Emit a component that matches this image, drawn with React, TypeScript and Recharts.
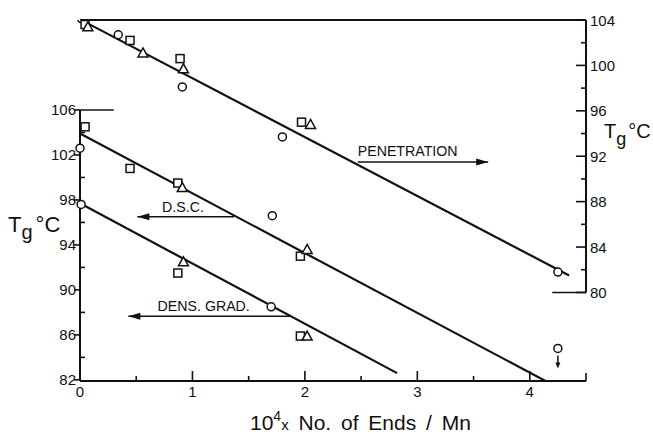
import React from "react";
import {
  ComposedChart,
  XAxis,
  YAxis,
  Line,
  Scatter,
  ReferenceLine,
  ReferenceDot,
} from "recharts";

type Pt = { x: number; y: number };

// axis ticks
const xTicks = [0, 0.5, 1, 1.5, 2, 2.5, 3, 3.5, 4, 4.5];
const xLabels = [0, 1, 2, 3, 4];
const topTicks = [0.5, 1, 1.5, 2, 2.5, 3, 3.5, 4];
const leftTicks = [82, 84, 86, 88, 90, 92, 94, 96, 98, 100, 102, 104, 106];
const leftLabels = [82, 86, 90, 94, 98, 102, 106];
const rightTicks = [80, 82, 84, 86, 88, 90, 92, 94, 96, 98, 100, 102, 104];
const rightLabels = [80, 84, 88, 92, 96, 100, 104];

// penetration (right axis)
const penCircles: Pt[] = [
  { x: 0.015, y: 104.1 },
  { x: 0.34, y: 102.7 },
  { x: 0.91, y: 98.1 },
  { x: 1.8, y: 93.7 },
  { x: 4.25, y: 81.8 },
];
const penSquares: Pt[] = [
  { x: 0.045, y: 103.6 },
  { x: 0.445, y: 102.2 },
  { x: 0.89, y: 100.6 },
  { x: 1.97, y: 95.0 },
];
const penTriangles: Pt[] = [
  { x: 0.07, y: 103.4 },
  { x: 0.56, y: 101.1 },
  { x: 0.92, y: 99.7 },
  { x: 2.05, y: 94.8 },
];
const penFit: Pt[] = [
  { x: 0.03, y: 103.9 },
  { x: 4.35, y: 81.5 },
];

// D.S.C. (left axis)
const dscCircles: Pt[] = [
  { x: 0, y: 102.6 },
  { x: 1.71, y: 96.6 },
];
const dscSquares: Pt[] = [
  { x: 0.045, y: 104.5 },
  { x: 0.445, y: 100.8 },
  { x: 0.87, y: 99.5 },
  { x: 1.96, y: 93.0 },
];
const dscTriangles: Pt[] = [
  { x: 0.91, y: 99.1 },
  { x: 2.02, y: 93.6 },
];
const dscFit: Pt[] = [
  { x: 0, y: 103.9 },
  { x: 4.14, y: 81.9 },
];

// dens. grad. (left axis)
const densCircles: Pt[] = [
  { x: 0.01, y: 97.6 },
  { x: 1.7, y: 88.5 },
];
const densSquares: Pt[] = [
  { x: 0.87, y: 91.5 },
  { x: 1.96, y: 85.9 },
];
const densTriangles: Pt[] = [
  { x: 0.92, y: 92.5 },
  { x: 2.02, y: 85.9 },
];
const densFit: Pt[] = [
  { x: 0, y: 97.7 },
  { x: 2.82, y: 82.6 },
];
const offScale: Pt[] = [{ x: 4.25, y: 84.8 }];

// arrow labels: text position, shaft from x1 to x2 at ay, head side
const notes = [
  { text: "PENETRATION", axis: "right", tx: 2.47, ty: 92.0, x1: 2.47, x2: 3.63, ay: 91.5, head: "right" },
  { text: "D.S.C.", axis: "left", tx: 0.73, ty: 96.9, x1: 0.51, x2: 1.37, ay: 96.5, head: "left" },
  { text: "DENS. GRAD.", axis: "left", tx: 0.69, ty: 88.1, x1: 0.43, x2: 1.87, ay: 87.65, head: "left" },
];

const font = "'Liberation Sans', Arial, sans-serif";
const ink = "#111";

const circle = (p: any) => (
  <circle cx={p.cx} cy={p.cy} r={4} fill="#fff" stroke={ink} strokeWidth={1.5} />
);
const square = (p: any) => (
  <rect x={p.cx - 4} y={p.cy - 4} width={8} height={8} fill="#fff" stroke={ink} strokeWidth={1.5} />
);
const triangle = (p: any) => (
  <path
    d={`M${p.cx},${p.cy - 5} L${p.cx + 5},${p.cy + 4} L${p.cx - 5},${p.cy + 4} Z`}
    fill="#fff"
    stroke={ink}
    strokeWidth={1.5}
  />
);
const circleDown = (p: any) => (
  <g>
    <circle cx={p.cx} cy={p.cy} r={4} fill="#fff" stroke={ink} strokeWidth={1.5} />
    <line x1={p.cx} x2={p.cx} y1={p.cy + 7} y2={p.cy + 17} stroke={ink} strokeWidth={1.5} />
    <path d={`M${p.cx - 2.5},${p.cy + 14} L${p.cx + 2.5},${p.cy + 14} L${p.cx},${p.cy + 20} Z`} fill={ink} />
  </g>
);

const LeftTick = (props: any) => {
  const { x, y, payload } = props;
  const major = leftLabels.includes(payload.value);
  return (
    <g>
      <line x1={major ? x - 6 : x} x2={major ? x : x + 5} y1={y} y2={y} stroke={ink} strokeWidth={1.6} />
      {major && (
        <text x={x - 4} y={y + 5.5} textAnchor="end" fontSize={15} fontFamily={font} fill={ink}>
          {payload.value}
        </text>
      )}
    </g>
  );
};

const RightTick = (props: any) => {
  const { x, y, payload } = props;
  const major = rightLabels.includes(payload.value);
  return (
    <g>
      <line x1={x - (major ? 10 : 5)} x2={x} y1={y} y2={y} stroke={ink} strokeWidth={1.6} />
      {major && (
        <text x={x + 4} y={y + 5.5} textAnchor="start" fontSize={15} fontFamily={font} fill={ink}>
          {payload.value}
        </text>
      )}
    </g>
  );
};

const BottomTick = (props: any) => {
  const { x, y, payload } = props;
  const major = xLabels.includes(payload.value);
  const len = major ? 10 : payload.value === 4.5 ? 8 : 5;
  return (
    <g>
      <line x1={x} x2={x} y1={y - len} y2={y} stroke={ink} strokeWidth={1.6} />
      {major && (
        <text x={x} y={y + 16} textAnchor="middle" fontSize={15} fontFamily={font} fill={ink}>
          {payload.value}
        </text>
      )}
    </g>
  );
};

const TopTick = (props: any) => {
  const { x, y, payload } = props;
  const major = Number.isInteger(payload.value);
  return <line x1={x} x2={x} y1={y} y2={y + (major ? 12 : 5)} stroke={ink} strokeWidth={1.6} />;
};

const arrowHead = (dir: string) => (p: any) => {
  const s = dir === "right" ? 1 : -1;
  return (
    <path
      d={`M${p.cx},${p.cy} L${p.cx - s * 12},${p.cy - 3.5} L${p.cx - s * 12},${p.cy + 3.5} Z`}
      fill={ink}
    />
  );
};

const noteText = (text: string) => (p: any) => (
  <text x={p.cx} y={p.cy} fontSize={14.2} fontFamily={font} fill={ink}>
    {text}
  </text>
);

export default function App() {
  return (
    <div style={{ position: "absolute", left: 0, top: 0, background: "#fff" }}>
      <ComposedChart width={653} height={435} margin={{ top: 0, right: 0, bottom: 0, left: 0 }}>
        <XAxis
          dataKey="x"
          type="number"
          domain={[0, 4.5]}
          ticks={xTicks}
          interval={0}
          tickSize={0}
          tickMargin={0}
          tickLine={false}
          tick={<BottomTick />}
          height={54}
          axisLine={{ stroke: ink, strokeWidth: 2 }}
          label={{
            content: () => (
              <text x={250} y={430} fontSize={21} fontFamily={font} fill={ink} wordSpacing={4}>
                10
                <tspan dy={-9} fontSize={14}>4</tspan>
                <tspan dy={9} fontSize={15}>x</tspan>
                <tspan> No. of Ends / Mn</tspan>
              </text>
            ),
          }}
        />
        <XAxis
          xAxisId="top"
          orientation="top"
          dataKey="x"
          type="number"
          domain={[0, 4.5]}
          ticks={topTicks}
          interval={0}
          tickSize={0}
          tickMargin={0}
          tickLine={false}
          tick={<TopTick />}
          height={20}
          axisLine={{ stroke: ink, strokeWidth: 2 }}
        />
        <YAxis
          yAxisId="left"
          type="number"
          domain={[82, 114]}
          ticks={leftTicks}
          interval={0}
          width={80}
          tickSize={0}
          tickMargin={0}
          tickLine={false}
          axisLine={false}
          tick={<LeftTick />}
          label={{
            content: () => (
              <text x={8} y={232} fontSize={22} fontFamily={font} fill={ink}>
                T<tspan dy={7} fontSize={20}>g</tspan>
                <tspan dy={-7} dx={3}>°C</tspan>
              </text>
            ),
          }}
        />
        <YAxis
          yAxisId="right"
          orientation="right"
          type="number"
          domain={[72.2, 104]}
          allowDataOverflow
          ticks={rightTicks}
          interval={0}
          width={67}
          tickSize={0}
          tickMargin={0}
          tickLine={false}
          axisLine={false}
          tick={<RightTick />}
          label={{
            content: () => (
              <text x={604} y={138} fontSize={20} fontFamily={font} fill={ink}>
                T<tspan dy={7} fontSize={18}>g</tspan>
                <tspan dy={-7} dx={2}>°C</tspan>
              </text>
            ),
          }}
        />

        {/* partial axis lines and brackets */}
        <ReferenceLine yAxisId="left" segment={[{ x: 0, y: 82 }, { x: 0, y: 106 }]} stroke={ink} strokeWidth={2} />
        <ReferenceLine yAxisId="left" segment={[{ x: 0, y: 106 }, { x: 0.3, y: 106 }]} stroke={ink} strokeWidth={1.6} />
        <ReferenceLine yAxisId="right" segment={[{ x: 4.5, y: 80 }, { x: 4.5, y: 104 }]} stroke={ink} strokeWidth={2} />
        <ReferenceLine yAxisId="right" segment={[{ x: 4.2, y: 80 }, { x: 4.5, y: 80 }]} stroke={ink} strokeWidth={1.6} />

        {/* fitted lines */}
        <Line yAxisId="right" data={penFit} dataKey="y" stroke={ink} strokeWidth={2.2} dot={false} isAnimationActive={false} />
        <Line yAxisId="left" data={dscFit} dataKey="y" stroke={ink} strokeWidth={2.2} dot={false} isAnimationActive={false} />
        <Line yAxisId="left" data={densFit} dataKey="y" stroke={ink} strokeWidth={2.2} dot={false} isAnimationActive={false} />

        {/* arrow labels */}
        {notes.map((n) => (
          <ReferenceLine
            key={n.text + "-shaft"}
            yAxisId={n.axis}
            segment={[{ x: n.x1, y: n.ay }, { x: n.x2, y: n.ay }]}
            stroke={ink}
            strokeWidth={1.5}
          />
        ))}
        {notes.map((n) => (
          <ReferenceDot
            key={n.text + "-head"}
            yAxisId={n.axis}
            x={n.head === "right" ? n.x2 : n.x1}
            y={n.ay}
            shape={arrowHead(n.head)}
          />
        ))}
        {notes.map((n) => (
          <ReferenceDot key={n.text} yAxisId={n.axis} x={n.tx} y={n.ty} shape={noteText(n.text)} />
        ))}

        {/* measured points */}
        <Scatter yAxisId="right" data={penCircles} dataKey="y" shape={circle} isAnimationActive={false} />
        <Scatter yAxisId="right" data={penSquares} dataKey="y" shape={square} isAnimationActive={false} />
        <Scatter yAxisId="right" data={penTriangles} dataKey="y" shape={triangle} isAnimationActive={false} />
        <Scatter yAxisId="left" data={dscCircles} dataKey="y" shape={circle} isAnimationActive={false} />
        <Scatter yAxisId="left" data={dscSquares} dataKey="y" shape={square} isAnimationActive={false} />
        <Scatter yAxisId="left" data={dscTriangles} dataKey="y" shape={triangle} isAnimationActive={false} />
        <Scatter yAxisId="left" data={densCircles} dataKey="y" shape={circle} isAnimationActive={false} />
        <Scatter yAxisId="left" data={densSquares} dataKey="y" shape={square} isAnimationActive={false} />
        <Scatter yAxisId="left" data={densTriangles} dataKey="y" shape={triangle} isAnimationActive={false} />
        <Scatter yAxisId="left" data={offScale} dataKey="y" shape={circleDown} isAnimationActive={false} />
      </ComposedChart>
    </div>
  );
}
